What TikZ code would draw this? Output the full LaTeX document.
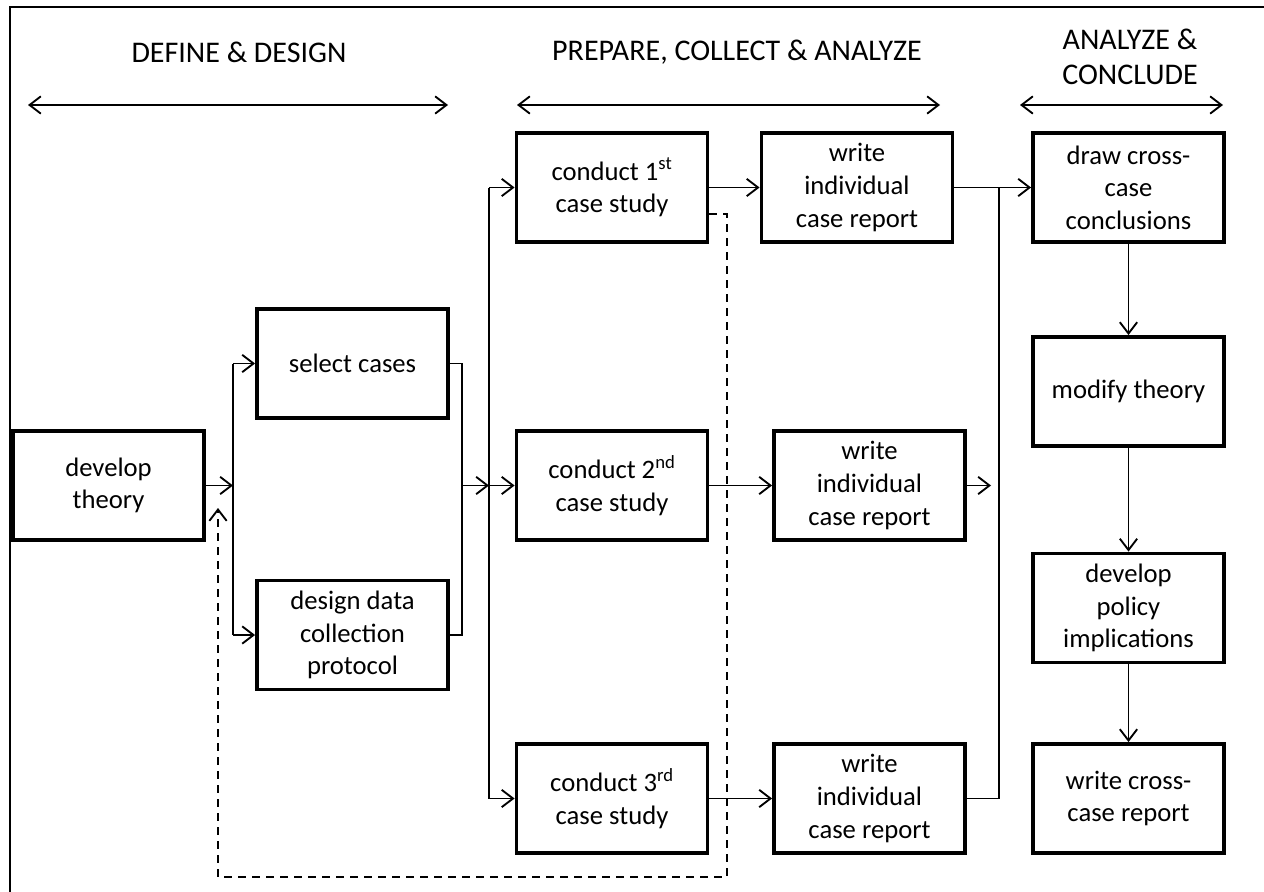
\documentclass[tikz,border=0pt]{standalone}
\usepackage{fontspec}
\setmainfont{Carlito}
\usetikzlibrary{arrows.meta,calc}
\begin{document}
\begin{tikzpicture}[x=0.75pt,y=-0.75pt,
  box/.style={draw,line width=2.9pt,minimum width=143.25pt,minimum height=81.75pt,inner sep=0pt,align=center,font=\fontsize{20}{24.4}\selectfont},
  conn/.style={line width=1.4pt},
  tip/.style={Straight Barb[length=8.5pt,width=13pt]},
  arr/.style={conn,-{Straight Barb[length=8.5pt,width=13pt]}},
  darr/.style={conn,{Straight Barb[length=8.5pt,width=13pt]}-{Straight Barb[length=8.5pt,width=13pt]}},
  dashline/.style={conn,dash pattern=on 6pt off 4.5pt},
  head/.style={align=center,font=\fontsize{22.5}{26}\selectfont}]
\useasboundingbox (0,0) rectangle (1264,892);
\fill[white] (0,0) rectangle (1264,892);
\draw[line width=1.5pt] (10,892) -- (10,7) -- (1264,7);

% headers
\node[head] (h1) at (239,52) {DEFINE \& DESIGN};
\node[head] (h2) at (737,52) {PREPARE, COLLECT \& ANALYZE};
\node[head] (h3) at (1130,57) {ANALYZE \&\\CONCLUDE};
\coordinate (a1l) at (28,105);  \coordinate (a1r) at (448,105);
\coordinate (a2l) at (517,105); \coordinate (a2r) at (940,105);
\coordinate (a3l) at (1020,105); \coordinate (a3r) at (1223,105);
\draw[darr] (a1l) -- (a1r);
\draw[darr] (a2l) -- (a2r);
\draw[darr] (a3l) -- (a3r);

% boxes
\node[box] (dev) at (108.5,485.5) {develop\\theory};
\node[box] (sel) at (352.5,363.5) {select cases};
\node[box] (des) at (352.5,635) {design data\\collection\\protocol};
\node[box] (c1) at (612,187.5) {conduct 1\textsuperscript{st}\\case study};
\node[box] (c2) at (612,485.5) {conduct 2\textsuperscript{nd}\\case study};
\node[box] (c3) at (612,798.5) {conduct 3\textsuperscript{rd}\\case study};
\node[box] (w1) at (857,187.5) {write\\individual\\case report};
\node[box] (w2) at (869.5,485.5) {write\\individual\\case report};
\node[box] (w3) at (869.5,798.5) {write\\individual\\case report};
\node[box] (r1) at (1128.5,187.5) {draw cross-\\case\\conclusions};
\node[box] (r2) at (1128.5,391.5) {modify theory};
\node[box] (r3) at (1128.5,608) {develop\\policy\\implications};
\node[box] (r4) at (1128.5,798.5) {write cross-\\case report};

% junction coordinates
\coordinate (s1) at (233,485.5);
\coordinate (s2) at (462,485.5);
\coordinate (s3) at (489,485.5);
\coordinate (s4) at (999,187.5);
\coordinate (s5) at (991,485.5);
\coordinate (fb) at (218,508);

% left part
\draw[arr] (dev.east) -- (s1);
\draw[conn] (sel.west -| s1) -- (des.west -| s1);
\draw[arr] (sel.west -| s1) -- (sel.west);
\draw[arr] (des.west -| s1) -- (des.west);
\draw[conn] (sel.east) -- (sel.east -| s2) -- (des.east -| s2) -- (des.east);
\draw[arr] (s2) -- (s3);

% middle part
\draw[conn] (c1.west -| s3) -- (c3.west -| s3);
\draw[arr] (c1.west -| s3) -- (c1.west);
\draw[arr] (s3) -- (c2.west);
\draw[arr] (c3.west -| s3) -- (c3.west);
\draw[arr] (c1.east) -- (w1.west);
\draw[arr] (c2.east) -- (w2.west);
\draw[arr] (c3.east) -- (w3.west);

% right merge
\draw[arr] (w1.east) -- (r1.west);
\draw[conn] (w3.east) -| (s4);
\draw[arr] (w2.east) -- (s5);

% right column
\draw[arr] (r1.south) -- (r2.north);
\draw[arr] (r2.south) -- (r3.north);
\draw[arr] (r3.south) -- (r4.north);

% feedback dashed loop
\draw[dashline,-{Straight Barb[length=8.5pt,width=13pt]}] ($(c1.east)+(0,26.5)$) -- (727,214) -- (727,877) -- (218,877) -- (fb);
\end{tikzpicture}
\end{document}
